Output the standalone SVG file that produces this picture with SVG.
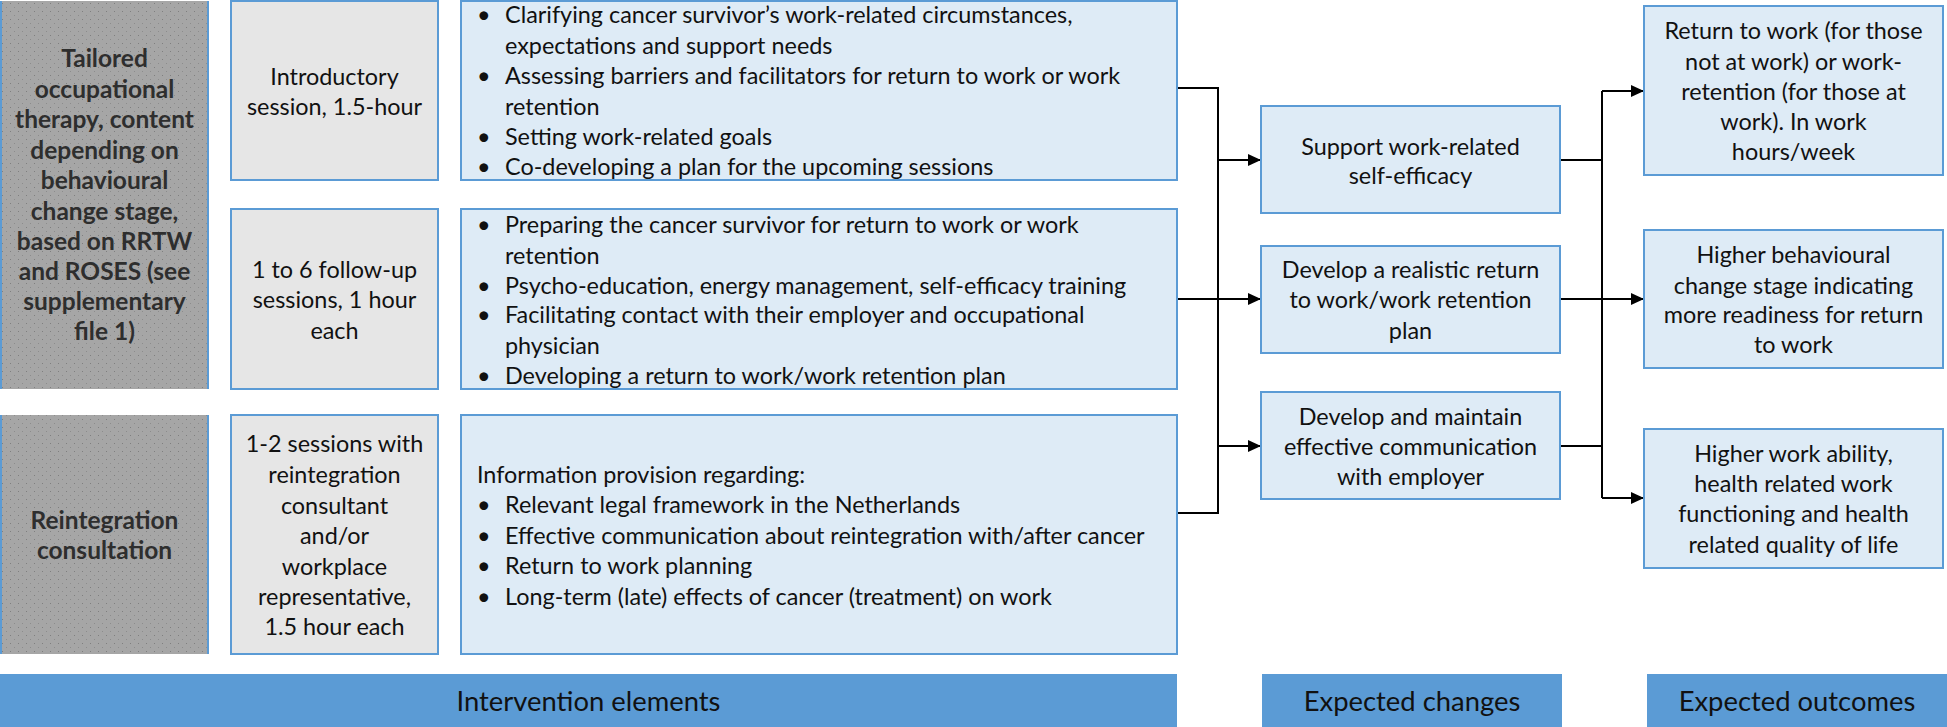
<svg xmlns="http://www.w3.org/2000/svg" width="1947" height="727" viewBox="0 0 1947 727">
<style>
text{font-family:Lato,"Liberation Sans",sans-serif;font-size:23.4px;fill:#111}
.c{text-anchor:middle}
.b{font-weight:bold;fill:#2e2e2e;font-size:24.5px}
.bar{font-size:27.4px;text-anchor:middle}
.dark{fill:url(#dots)}
.grey{fill:#e6e6e6;stroke:#5b9bd5;stroke-width:2}
.blue{fill:#deebf6;stroke:#5b9bd5;stroke-width:2}
.hdr{fill:#5b9bd5}
.edge{stroke:#5b9bd5;stroke-width:2}
.ln{fill:none;stroke:#000;stroke-width:2}
.ar{fill:none;stroke:#000;stroke-width:2;marker-end:url(#ah)}
</style>
<defs>
<pattern id="dots" width="8" height="8" patternUnits="userSpaceOnUse">
<rect width="8" height="8" fill="#a6a6a6"/>
<rect x="2" y="3" width="1" height="1" fill="#7f7f7f"/>
<rect x="6" y="7" width="1" height="1" fill="#8c8c8c"/>
</pattern>
<marker id="ah" markerWidth="14" markerHeight="14" refX="13" refY="6.5" orient="auto" markerUnits="userSpaceOnUse">
<path d="M0,0.5 L13,6.5 L0,12.5 Z" fill="#000"/>
</marker>
</defs>

<g id="connectors">
<path class="ln" d="M1177 88 H1218 V513 H1177 M1177 299 H1218"/>
<path class="ar" d="M1218 160 H1261"/>
<path class="ar" d="M1218 299 H1261"/>
<path class="ar" d="M1218 446 H1261"/>
<path class="ln" d="M1560 160 H1602 M1560 446 H1602 M1602 91 V498"/>
<path class="ar" d="M1602 91 H1644"/>
<path class="ar" d="M1560 299 H1644"/>
<path class="ar" d="M1602 498 H1644"/>
</g>

<g id="node-tailored-ot">
<rect class="dark" x="1" y="1" width="207" height="388"/>
<path class="edge" d="M1 1 V389 M208 1 V389"/>
<text class="c b" x="104.5" y="67">Tailored</text>
<text class="c b" x="104.5" y="98">occupational</text>
<text class="c b" x="104.5" y="128">therapy, content</text>
<text class="c b" x="104.5" y="159">depending on</text>
<text class="c b" x="104.5" y="189">behavioural</text>
<text class="c b" x="104.5" y="220">change stage,</text>
<text class="c b" x="104.5" y="250">based on RRTW</text>
<text class="c b" x="104.5" y="280">and ROSES (see</text>
<text class="c b" x="104.5" y="310">supplementary</text>
<text class="c b" x="104.5" y="340">file 1)</text>
</g>

<g id="node-reintegration">
<rect class="dark" x="1" y="415" width="207" height="239"/>
<path class="edge" d="M1 415 V654 M208 415 V654"/>
<text class="c b" x="104.5" y="529">Reintegration</text>
<text class="c b" x="104.5" y="559">consultation</text>
</g>

<g id="node-intro">
<rect class="grey" x="231" y="1" width="207" height="179"/>
<text class="c" x="334.5" y="85">Introductory</text>
<text class="c" x="334.5" y="115">session, 1.5-hour</text>
</g>

<g id="node-followup">
<rect class="grey" x="231" y="209" width="207" height="180"/>
<text class="c" x="334.5" y="278">1 to 6 follow-up</text>
<text class="c" x="334.5" y="308">sessions, 1 hour</text>
<text class="c" x="334.5" y="339">each</text>
</g>

<g id="node-sessions">
<rect class="grey" x="231" y="415" width="207" height="239"/>
<text class="c" x="334.5" y="452">1-2 sessions with</text>
<text class="c" x="334.5" y="483">reintegration</text>
<text class="c" x="334.5" y="514">consultant</text>
<text class="c" x="334.5" y="544">and/or</text>
<text class="c" x="334.5" y="575">workplace</text>
<text class="c" x="334.5" y="605">representative,</text>
<text class="c" x="334.5" y="635">1.5 hour each</text>
</g>

<g id="node-intro-content">
<rect class="blue" x="461" y="1" width="716" height="179"/>
<text x="477" y="23">•</text><text x="505" y="23">Clarifying cancer survivor’s work-related circumstances,</text>
<text x="505" y="54">expectations and support needs</text>
<text x="477" y="84">•</text><text x="505" y="84">Assessing barriers and facilitators for return to work or work</text>
<text x="505" y="115">retention</text>
<text x="477" y="145">•</text><text x="505" y="145">Setting work-related goals</text>
<text x="477" y="175">•</text><text x="505" y="175">Co-developing a plan for the upcoming sessions</text>
</g>

<g id="node-followup-content">
<rect class="blue" x="461" y="209" width="716" height="180"/>
<text x="477" y="233">•</text><text x="505" y="233">Preparing the cancer survivor for return to work or work</text>
<text x="505" y="264">retention</text>
<text x="477" y="294">•</text><text x="505" y="294">Psycho-education, energy management, self-efficacy training</text>
<text x="477" y="323">•</text><text x="505" y="323">Facilitating contact with their employer and occupational</text>
<text x="505" y="354">physician</text>
<text x="477" y="384">•</text><text x="505" y="384">Developing a return to work/work retention plan</text>
</g>

<g id="node-reintegration-content">
<rect class="blue" x="461" y="415" width="716" height="239"/>
<text x="477" y="483">Information provision regarding:</text>
<text x="477" y="513">•</text><text x="505" y="513">Relevant legal framework in the Netherlands</text>
<text x="477" y="544">•</text><text x="505" y="544">Effective communication about reintegration with/after cancer</text>
<text x="477" y="574">•</text><text x="505" y="574">Return to work planning</text>
<text x="477" y="605">•</text><text x="505" y="605">Long-term (late) effects of cancer (treatment) on work</text>
</g>

<g id="node-self-efficacy">
<rect class="blue" x="1261" y="106" width="299" height="107"/>
<text class="c" x="1410.5" y="155">Support work-related</text>
<text class="c" x="1410.5" y="184">self-efficacy</text>
</g>

<g id="node-rtw-plan">
<rect class="blue" x="1261" y="246" width="299" height="107"/>
<text class="c" x="1410.5" y="278">Develop a realistic return</text>
<text class="c" x="1410.5" y="308">to work/work retention</text>
<text class="c" x="1410.5" y="339">plan</text>
</g>

<g id="node-communication">
<rect class="blue" x="1261" y="392" width="299" height="107"/>
<text class="c" x="1410.5" y="425">Develop and maintain</text>
<text class="c" x="1410.5" y="455">effective communication</text>
<text class="c" x="1410.5" y="485">with employer</text>
</g>

<g id="node-outcome-rtw">
<rect class="blue" x="1644" y="6" width="299" height="169"/>
<text class="c" x="1793.5" y="39">Return to work (for those</text>
<text class="c" x="1793.5" y="70">not at work) or work-</text>
<text class="c" x="1793.5" y="100">retention (for those at</text>
<text class="c" x="1793.5" y="130">work). In work</text>
<text class="c" x="1793.5" y="160">hours/week</text>
</g>

<g id="node-outcome-stage">
<rect class="blue" x="1644" y="230" width="299" height="138"/>
<text class="c" x="1793.5" y="263">Higher behavioural</text>
<text class="c" x="1793.5" y="294">change stage indicating</text>
<text class="c" x="1793.5" y="323">more readiness for return</text>
<text class="c" x="1793.5" y="353">to work</text>
</g>

<g id="node-outcome-ability">
<rect class="blue" x="1644" y="429" width="299" height="139"/>
<text class="c" x="1793.5" y="462">Higher work ability,</text>
<text class="c" x="1793.5" y="492">health related work</text>
<text class="c" x="1793.5" y="522">functioning and health</text>
<text class="c" x="1793.5" y="553">related quality of life</text>
</g>

<g id="header-intervention">
<rect class="hdr" x="0" y="674" width="1177" height="53"/>
<text class="bar" x="588.5" y="711">Intervention elements</text>
</g>
<g id="header-changes">
<rect class="hdr" x="1262" y="674" width="300" height="53"/>
<text class="bar" x="1412" y="711">Expected changes</text>
</g>
<g id="header-outcomes">
<rect class="hdr" x="1647" y="674" width="300" height="53"/>
<text class="bar" x="1797" y="711">Expected outcomes</text>
</g>
</svg>
